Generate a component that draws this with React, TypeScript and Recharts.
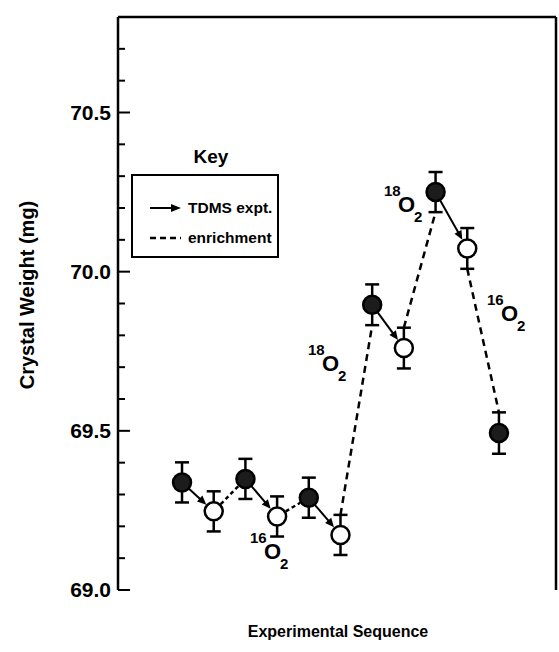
import React from "react";
import { ComposedChart, Scatter, ErrorBar, XAxis, YAxis, ReferenceLine } from "recharts";

// experimental sequence index, crystal weight (mg), error
const sequence = [0, 1, 2, 3, 4, 5, 6, 7, 8, 9, 10];
const weights = [69.338, 69.247, 69.349, 69.231, 69.29, 69.173, 69.896, 69.76, 70.25, 70.073, 69.493];
const errors = [0.063, 0.063, 0.063, 0.063, 0.063, 0.063, 0.064, 0.064, 0.063, 0.064, 0.065];
// filled = before TDMS run, open = after
const filled = [true, false, true, false, true, false, true, false, true, false, true];

const tdmsSteps = [[0, 1], [2, 3], [4, 5], [6, 7], [8, 9]];
const enrichSteps = [[1, 2], [3, 4], [5, 6], [7, 8], [9, 10]];

const yTicks = [69.0, 69.1, 69.2, 69.3, 69.4, 69.5, 69.6, 69.7, 69.8, 69.9, 70.0, 70.1, 70.2, 70.3, 70.4, 70.5, 70.6, 70.7];
const yLabels = [69.0, 69.5, 70.0, 70.5];

const FONT = "'Liberation Sans', Arial, Helvetica, sans-serif";
const R = 9;

const data = sequence.map((x, i) => ({ x, y: weights[i], err: errors[i], filled: filled[i] }));

const renderPoint = (props: any) => {
  const { cx, cy, payload } = props;
  return (
    <circle
      cx={cx}
      cy={cy}
      r={R}
      fill={payload.filled ? "#1c1c1c" : "#fff"}
      stroke="#000"
      strokeWidth={2.5}
    />
  );
};

const arrowShape = (props: any) => {
  const { x1, y1, x2, y2 } = props;
  const dx = x2 - x1;
  const dy = y2 - y1;
  const len = Math.hypot(dx, dy);
  const ux = dx / len;
  const uy = dy / len;
  const sx = x1 + ux * R;
  const sy = y1 + uy * R;
  const ex = x2 - ux * (R + 1);
  const ey = y2 - uy * (R + 1);
  const bx = ex - ux * 9;
  const by = ey - uy * 9;
  const pts = `${ex},${ey} ${bx - uy * 4},${by + ux * 4} ${bx + uy * 4},${by - ux * 4}`;
  return (
    <g>
      <line x1={sx} y1={sy} x2={bx + ux} y2={by + uy} stroke="#000" strokeWidth={2} />
      <polygon points={pts} fill="#000" />
    </g>
  );
};

const dottedShape = (props: any) => {
  const { x1, y1, x2, y2 } = props;
  const dx = x2 - x1;
  const dy = y2 - y1;
  const len = Math.hypot(dx, dy);
  const ux = dx / len;
  const uy = dy / len;
  return (
    <line
      x1={x1 + ux * (R + 1)}
      y1={y1 + uy * (R + 1)}
      x2={x2 - ux * (R + 1)}
      y2={y2 - uy * (R + 1)}
      stroke="#000"
      strokeWidth={2.5}
      strokeDasharray="4 3"
    />
  );
};

const dashedShape = (props: any) => {
  const { x1, y1, x2, y2 } = props;
  return <line x1={x1} y1={y1} x2={x2} y2={y2} stroke="#000" strokeWidth={2.5} strokeDasharray="7 5" />;
};

const renderYTick = (props: any) => {
  const { x, y, payload } = props;
  const v = payload.value;
  const major = yLabels.some((l) => Math.abs(l - v) < 1e-6);
  return (
    <g>
      <line x1={x} x2={x + (major ? 12 : 7)} y1={y} y2={y} stroke="#000" strokeWidth={2} />
      {major && (
        <text x={x - 7} y={y} dy={7} textAnchor="end" fontSize={21} fontWeight="bold" fontFamily={FONT} fill="#000">
          {v.toFixed(1)}
        </text>
      )}
    </g>
  );
};

function Isotope({ x, y, mass }: { x: number; y: number; mass: string }) {
  return (
    <text fontFamily={FONT} fontWeight="bold" fill="#000">
      <tspan x={x} y={y} fontSize={15}>{mass}</tspan>
      <tspan x={x + 14} y={y + 16} fontSize={22}>O</tspan>
      <tspan x={x + 30} y={y + 26} fontSize={15}>2</tspan>
    </text>
  );
}

export default function App() {
  return (
    <div style={{ position: "absolute", left: 0, top: 0, width: 559, height: 652, background: "#fff" }}>
      <ComposedChart width={559} height={652} data={data} margin={{ top: 17, right: 3, bottom: 62, left: 0 }}>
        <XAxis
          type="number"
          dataKey="x"
          domain={[-2.02, 11.8]}
          allowDataOverflow
          tick={false}
          tickLine={false}
          height={0}
          axisLine={{ stroke: "#000", strokeWidth: 2.5 }}
        />
        <YAxis
          type="number"
          domain={[69, 70.8]}
          allowDataOverflow
          ticks={yTicks}
          interval={0}
          tickSize={0}
          tickMargin={0}
          tickLine={false}
          tick={renderYTick}
          width={118}
          axisLine={{ stroke: "#000", strokeWidth: 2.5 }}
        />
        <ReferenceLine y={70.8} stroke="#000" strokeWidth={2.5} ifOverflow="visible" />
        <ReferenceLine x={11.8} stroke="#000" strokeWidth={2.5} ifOverflow="visible" />
        {tdmsSteps.map(([a, b]) => (
          <ReferenceLine
            key={`t${a}`}
            ifOverflow="visible"
            segment={[{ x: sequence[a], y: weights[a] }, { x: sequence[b], y: weights[b] }]}
            shape={arrowShape}
          />
        ))}
        {enrichSteps.map(([a, b]) => {
          const big = Math.abs(weights[b] - weights[a]) > errors[a] + errors[b];
          if (!big) {
            return (
              <ReferenceLine
                key={`e${a}`}
                ifOverflow="visible"
                segment={[{ x: sequence[a], y: weights[a] }, { x: sequence[b], y: weights[b] }]}
                shape={dottedShape}
              />
            );
          }
          const s = weights[b] > weights[a] ? 1 : -1;
          return (
            <ReferenceLine
              key={`e${a}`}
              ifOverflow="visible"
              segment={[
                { x: sequence[a], y: weights[a] + s * errors[a] },
                { x: sequence[b], y: weights[b] - s * errors[b] },
              ]}
              shape={dashedShape}
            />
          );
        })}
        <Scatter data={data} dataKey="y" shape={renderPoint} isAnimationActive={false}>
          <ErrorBar dataKey="err" direction="y" width={7} stroke="#000" strokeWidth={2.5} />
        </Scatter>
      </ComposedChart>
      <svg
        width={559}
        height={652}
        style={{ position: "absolute", left: 0, top: 0, pointerEvents: "none" }}
      >
        <text
          transform="translate(34, 295) rotate(-90)"
          textAnchor="middle"
          fontSize={20}
          fontWeight="bold"
          fontFamily={FONT}
          fill="#000"
        >
          Crystal Weight (mg)
        </text>
        <text x={338} y={637} textAnchor="middle" fontSize={16} fontWeight="bold" fontFamily={FONT} fill="#000">
          Experimental Sequence
        </text>

        {/* key */}
        <text x={211} y={163} textAnchor="middle" fontSize={19} fontWeight="bold" fontFamily={FONT} fill="#000">
          Key
        </text>
        <rect x={132} y={175} width={146} height={82} fill="none" stroke="#000" strokeWidth={2} />
        <line x1={150} y1={208} x2={172} y2={208} stroke="#000" strokeWidth={2} />
        <polygon points="181,208 171,204 171,212" fill="#000" />
        <text x={188} y={213} fontSize={15.5} fontWeight="bold" fontFamily={FONT} fill="#000">
          TDMS expt.
        </text>
        <line x1={150} y1={238} x2={181} y2={238} stroke="#000" strokeWidth={2.5} strokeDasharray="6 4" />
        <text x={188} y={243} fontSize={15.5} fontWeight="bold" fontFamily={FONT} fill="#000">
          enrichment
        </text>

        <Isotope x={250} y={543} mass="16" />
        <Isotope x={308} y={355} mass="18" />
        <Isotope x={384} y={196} mass="18" />
        <Isotope x={487} y={305} mass="16" />
      </svg>
    </div>
  );
}
